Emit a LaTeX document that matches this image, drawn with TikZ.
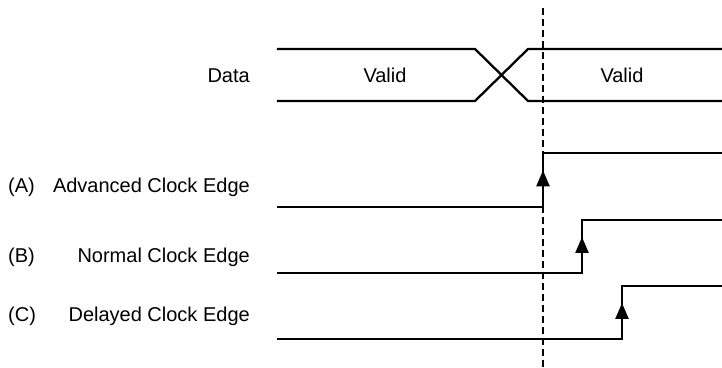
\documentclass[tikz,border=0pt]{standalone}
\usepackage{fontspec}
\setmainfont{Liberation Sans}
\usetikzlibrary{arrows.meta, calc, decorations.markings, positioning}

\tikzset{
  wave/.style={line width=2.3pt, line join=miter, line cap=rect},
  label/.style={font=\fontsize{20}{24}\selectfont, inner sep=0pt},
  edgearrow/.style={wave, decoration={markings,
      mark=at position 0.68 with {\arrow{Triangle[width=13pt,length=16pt]}}},
      postaction={decorate}},
  refline/.style={line width=2.8pt, dash pattern=on 7pt off 4pt}
}

\begin{document}
\begin{tikzpicture}[x=1pt, y=-1pt]
\useasboundingbox (0,0) rectangle (722,367);

% Data bus
\coordinate (D1) at (278,49);
\coordinate (D2) at (475,49);
\coordinate (D3) at (528,101);
\coordinate (D4) at (722,101);
\coordinate (D5) at (278,101);
\coordinate (D6) at (475,101);
\coordinate (D7) at (528,49);
\coordinate (D8) at (722,49);
\draw[wave] (D1) -- (D2) -- (D3) -- (D4);
\draw[wave] (D5) -- (D6) -- (D7) -- (D8);

% Labels for data
\node[label, anchor=base east] (data) at (250,82) {Data};
\node[label, anchor=base] (valid1) at (385,82) {Valid};
\node[label, anchor=base] (valid2) at (622,82) {Valid};

% Clock (A)
\draw[wave] (278,207) -- (543,207);
\draw[edgearrow] (543,207) -- (543,153);
\draw[wave] (543,153) -- (722,153);

% Clock (B)
\draw[wave] (278,273) -- (582,273);
\draw[edgearrow] (582,273) -- (582,220);
\draw[wave] (582,220) -- (722,220);

% Clock (C)
\draw[wave] (278,339) -- (622,339);
\draw[edgearrow] (622,339) -- (622,286);
\draw[wave] (622,286) -- (722,286);

% Reference line
\draw[refline] (543,8) -- (543,367);

% Labels for clocks
\node[label, anchor=base west] (tagA) at (8,192) {(A)};
\node[label, anchor=base east] (advanced) at (250,192) {Advanced Clock Edge};
\node[label, anchor=base west] (tagB) at (8,262) {(B)};
\node[label, anchor=base east] (normal) at (250,262) {Normal Clock Edge};
\node[label, anchor=base west] (tagC) at (8,321) {(C)};
\node[label, anchor=base east] (delayed) at (250,321) {Delayed Clock Edge};
\end{tikzpicture}
\end{document}
